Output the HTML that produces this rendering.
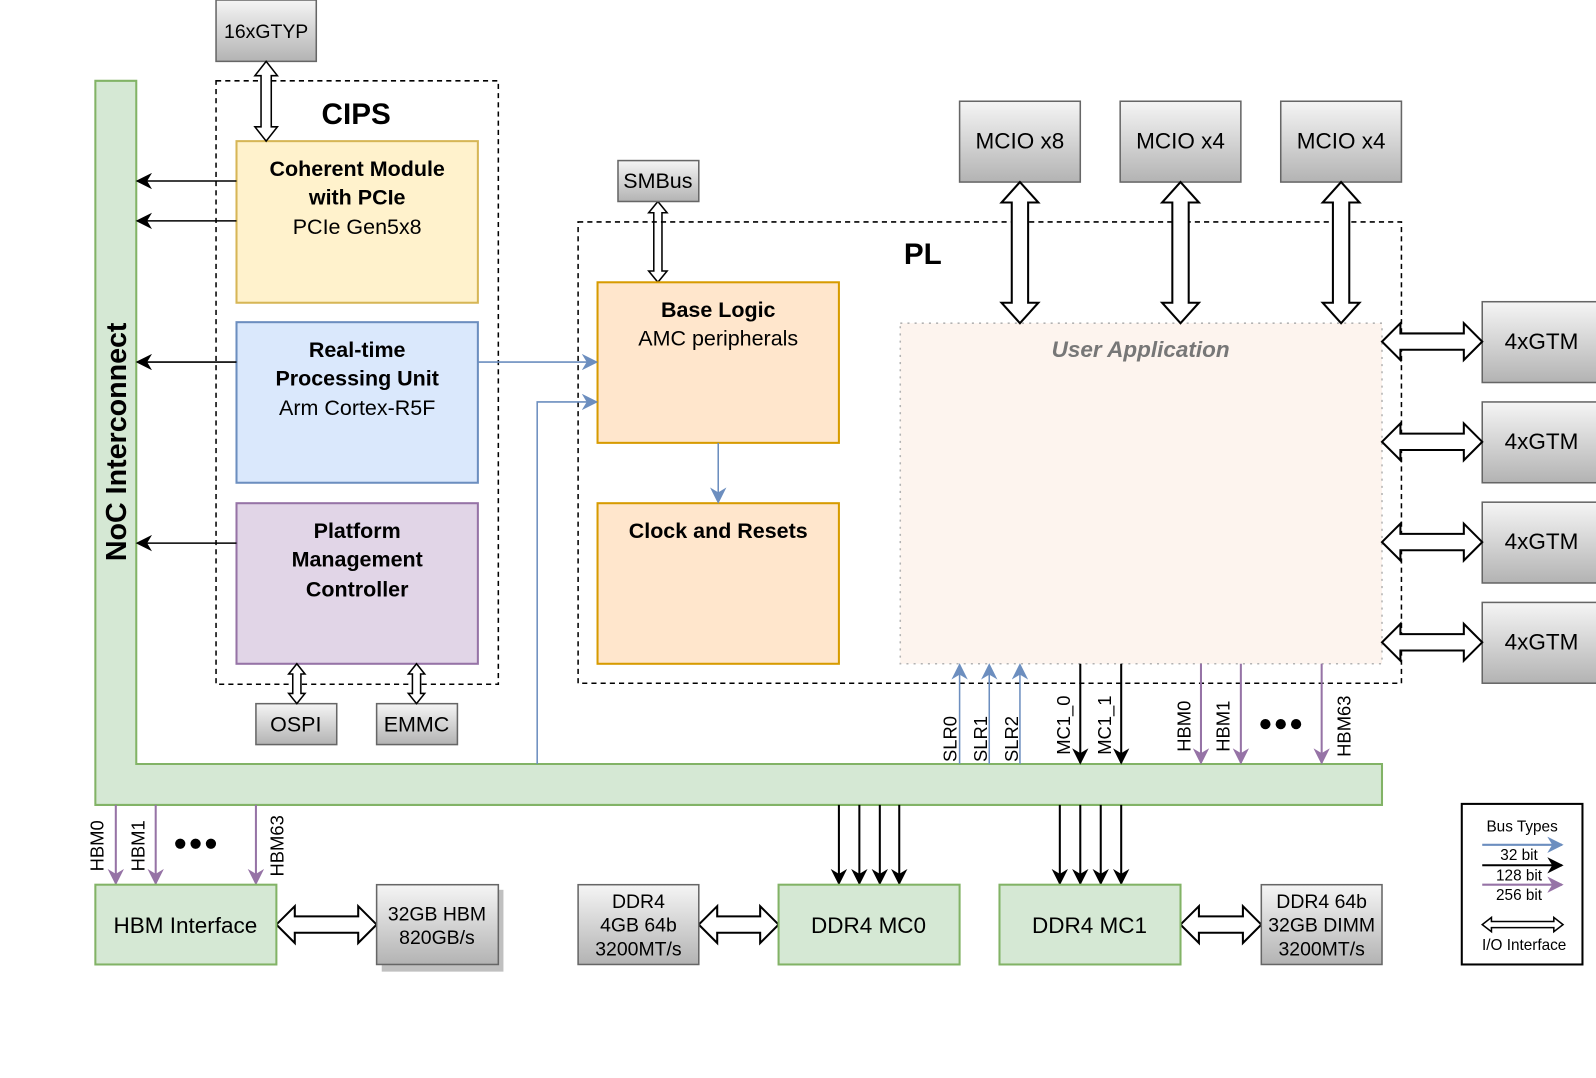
<!DOCTYPE html>
<html><head><meta charset="utf-8"><style>
html,body{margin:0;padding:0;background:#fff;}
svg{display:block;font-family:"Liberation Sans",Arial,sans-serif;}
</style></head><body>
<svg width="1596" height="1078" viewBox="0 0 1560 1054" xmlns="http://www.w3.org/2000/svg">
<defs>
<linearGradient id="g" x1="0" y1="0" x2="0" y2="1"><stop offset="0" stop-color="#f5f5f5"/><stop offset="1" stop-color="#b3b3b3"/></linearGradient>
<marker id="abk" viewBox="0 0 10 10" refX="9" refY="5" markerWidth="16" markerHeight="16" orient="auto" markerUnits="userSpaceOnUse"><path d="M0,0L10,5L0,10L3,5z" fill="#000"/></marker>
<marker id="abl" viewBox="0 0 10 10" refX="9" refY="5" markerWidth="16" markerHeight="16" orient="auto" markerUnits="userSpaceOnUse"><path d="M0,0L10,5L0,10L3,5z" fill="#6c8ebf"/></marker>
<marker id="apu" viewBox="0 0 10 10" refX="9" refY="5" markerWidth="16" markerHeight="16" orient="auto" markerUnits="userSpaceOnUse"><path d="M0,0L10,5L0,10L3,5z" fill="#9673a6"/></marker>
</defs>

<path d="M93,79H133V747H1351V787H93Z" fill="#d5e8d4" stroke="#82b366" stroke-width="2"/>
<text transform="translate(123,432) rotate(-90)" text-anchor="middle" font-size="28" font-weight="bold">NoC Interconnect</text>

<rect x="211" y="79" width="276" height="590" fill="none" stroke="#000" stroke-width="1.5" stroke-dasharray="5,4"/>
<text x="348" y="121" text-anchor="middle" font-size="29" font-weight="bold">CIPS</text>
<rect x="211" y="0" width="98" height="60" fill="url(#g)" stroke="#666" stroke-width="1.5"/>
<text x="260" y="37" text-anchor="middle" font-size="19">16xGTYP</text>

<rect x="231" y="138" width="236" height="158" fill="#fff2cc" stroke="#d6b656" stroke-width="2"/>
<text x="349" y="172" text-anchor="middle" font-size="21" font-weight="bold">Coherent Module</text>
<text x="349" y="200" text-anchor="middle" font-size="21" font-weight="bold">with PCIe</text>
<text x="349" y="229" text-anchor="middle" font-size="21">PCIe Gen5x8</text>

<rect x="231" y="315" width="236" height="157" fill="#dae8fc" stroke="#6c8ebf" stroke-width="2"/>
<text x="349" y="349" text-anchor="middle" font-size="21" font-weight="bold">Real-time</text>
<text x="349" y="377" text-anchor="middle" font-size="21" font-weight="bold">Processing Unit</text>
<text x="349" y="406" text-anchor="middle" font-size="21">Arm Cortex-R5F</text>

<rect x="231" y="492" width="236" height="157" fill="#e1d5e7" stroke="#9673a6" stroke-width="2"/>
<text x="349" y="526" text-anchor="middle" font-size="21" font-weight="bold">Platform</text>
<text x="349" y="554" text-anchor="middle" font-size="21" font-weight="bold">Management</text>
<text x="349" y="583" text-anchor="middle" font-size="21" font-weight="bold">Controller</text>

<rect x="250" y="688" width="79" height="40" fill="url(#g)" stroke="#666" stroke-width="1.5"/>
<text x="289" y="715" text-anchor="middle" font-size="21">OSPI</text>
<rect x="368" y="688" width="79" height="40" fill="url(#g)" stroke="#666" stroke-width="1.5"/>
<text x="407" y="715" text-anchor="middle" font-size="21">EMMC</text>

<g fill="#fff" stroke="#000" stroke-width="1.5">
<polygon points="260,60 271,74 265,74 265,124 271,124 260,138 249,124 255,124 255,74 249,74"/>
<polygon points="643,197 652,208 647,208 647,265 652,265 643,276 634,265 639,265 639,208 634,208"/>
<polygon points="290,649 298,659 294,659 294,678 298,678 290,688 282,678 286,678 286,659 282,659"/>
<polygon points="407,649 415,659 411,659 411,678 415,678 407,688 399,678 403,678 403,659 399,659"/>
</g>

<g stroke="#000" stroke-width="1.5" marker-end="url(#abk)">
<line x1="231" y1="177" x2="134" y2="177"/>
<line x1="231" y1="216" x2="134" y2="216"/>
<line x1="231" y1="354" x2="134" y2="354"/>
<line x1="231" y1="531" x2="134" y2="531"/>
</g>

<rect x="604" y="157" width="79" height="40" fill="url(#g)" stroke="#666" stroke-width="1.5"/>
<text x="643" y="184" text-anchor="middle" font-size="21">SMBus</text>

<rect x="565" y="217" width="805" height="451" fill="none" stroke="#000" stroke-width="1.5" stroke-dasharray="5,4"/>
<text x="902" y="258" text-anchor="middle" font-size="29" font-weight="bold">PL</text>

<rect x="584" y="276" width="236" height="157" fill="#ffe6cc" stroke="#d79b00" stroke-width="2"/>
<text x="702" y="310" text-anchor="middle" font-size="21" font-weight="bold">Base Logic</text>
<text x="702" y="338" text-anchor="middle" font-size="21">AMC peripherals</text>
<rect x="584" y="492" width="236" height="157" fill="#ffe6cc" stroke="#d79b00" stroke-width="2"/>
<text x="702" y="526" text-anchor="middle" font-size="21" font-weight="bold">Clock and Resets</text>

<rect x="880" y="316" width="471" height="333" fill="#fdf4ee" stroke="#b3b3b3" stroke-width="1.5" stroke-dasharray="2,5"/>
<text x="1115" y="349" text-anchor="middle" font-size="22" font-weight="bold" font-style="italic" fill="#777">User Application</text>

<g stroke="#6c8ebf" stroke-width="1.5" fill="none" marker-end="url(#abl)">
<line x1="467" y1="354" x2="583" y2="354"/>
<polyline points="525,747 525,393 583,393"/>
<line x1="702" y1="433" x2="702" y2="491"/>
<line x1="938" y1="747" x2="938" y2="650"/>
<line x1="967" y1="747" x2="967" y2="650"/>
<line x1="997" y1="747" x2="997" y2="650"/>
</g>
<g stroke="#000" stroke-width="2" marker-end="url(#abk)">
<line x1="1056" y1="649" x2="1056" y2="746"/>
<line x1="1096" y1="649" x2="1096" y2="746"/>
<line x1="820" y1="787" x2="820" y2="864"/>
<line x1="840" y1="787" x2="840" y2="864"/>
<line x1="860" y1="787" x2="860" y2="864"/>
<line x1="879" y1="787" x2="879" y2="864"/>
<line x1="1036" y1="787" x2="1036" y2="864"/>
<line x1="1056" y1="787" x2="1056" y2="864"/>
<line x1="1076" y1="787" x2="1076" y2="864"/>
<line x1="1096" y1="787" x2="1096" y2="864"/>
</g>
<g stroke="#9673a6" stroke-width="2" marker-end="url(#apu)">
<line x1="1174" y1="649" x2="1174" y2="746"/>
<line x1="1213" y1="649" x2="1213" y2="746"/>
<line x1="1292" y1="649" x2="1292" y2="746"/>
<line x1="113" y1="787" x2="113" y2="864"/>
<line x1="152" y1="787" x2="152" y2="864"/>
<line x1="250" y1="787" x2="250" y2="864"/>
</g>
<g font-size="18">
<text transform="translate(935,745) rotate(-90)">SLR0</text>
<text transform="translate(965,745) rotate(-90)">SLR1</text>
<text transform="translate(995,745) rotate(-90)">SLR2</text>
<text transform="translate(1046,738) rotate(-90)">MC1_0</text>
<text transform="translate(1086,738) rotate(-90)">MC1_1</text>
<text transform="translate(1164,735) rotate(-90)">HBM0</text>
<text transform="translate(1202,735) rotate(-90)">HBM1</text>
<text transform="translate(1320,740) rotate(-90)">HBM63</text>
<text transform="translate(101,852) rotate(-90)">HBM0</text>
<text transform="translate(141,852) rotate(-90)">HBM1</text>
<text transform="translate(277,857) rotate(-90)">HBM63</text>
</g>
<g fill="#000">
<circle cx="1237" cy="708" r="5"/><circle cx="1252" cy="708" r="5"/><circle cx="1267" cy="708" r="5"/>
<circle cx="176" cy="825" r="5"/><circle cx="191" cy="825" r="5"/><circle cx="206" cy="825" r="5"/>
</g>

<g font-size="22" text-anchor="middle">
<rect x="938" y="99" width="118" height="79" fill="url(#g)" stroke="#666" stroke-width="1.5"/>
<text x="997" y="145">MCIO x8</text>
<rect x="1095" y="99" width="118" height="79" fill="url(#g)" stroke="#666" stroke-width="1.5"/>
<text x="1154" y="145">MCIO x4</text>
<rect x="1252" y="99" width="118" height="79" fill="url(#g)" stroke="#666" stroke-width="1.5"/>
<text x="1311" y="145">MCIO x4</text>
<rect x="1449" y="295" width="117" height="79" fill="url(#g)" stroke="#666" stroke-width="1.5"/>
<text x="1507" y="341">4xGTM</text>
<rect x="1449" y="393" width="117" height="79" fill="url(#g)" stroke="#666" stroke-width="1.5"/>
<text x="1507" y="439">4xGTM</text>
<rect x="1449" y="491" width="117" height="79" fill="url(#g)" stroke="#666" stroke-width="1.5"/>
<text x="1507" y="537">4xGTM</text>
<rect x="1449" y="589" width="117" height="79" fill="url(#g)" stroke="#666" stroke-width="1.5"/>
<text x="1507" y="635">4xGTM</text>
</g>
<g fill="#fff" stroke="#000" stroke-width="2">
<polygon points="997,178 1015,198 1005,198 1005,296 1015,296 997,316 979,296 989,296 989,198 979,198"/>
<polygon points="1154,178 1172,198 1162,198 1162,296 1172,296 1154,316 1136,296 1146,296 1146,198 1136,198"/>
<polygon points="1311,178 1329,198 1319,198 1319,296 1329,296 1311,316 1293,296 1303,296 1303,198 1293,198"/>
<polygon points="1351,334 1369,316 1369,326 1431,326 1431,316 1449,334 1431,352 1431,342 1369,342 1369,352"/>
<polygon points="1351,432 1369,414 1369,424 1431,424 1431,414 1449,432 1431,450 1431,440 1369,440 1369,450"/>
<polygon points="1351,530 1369,512 1369,522 1431,522 1431,512 1449,530 1431,548 1431,538 1369,538 1369,548"/>
<polygon points="1351,628 1369,610 1369,620 1431,620 1431,610 1449,628 1431,646 1431,636 1369,636 1369,646"/>
<polygon points="270,904 288,886 288,896 350,896 350,886 368,904 350,922 350,912 288,912 288,922"/>
<polygon points="683,904 701,886 701,896 743,896 743,886 761,904 743,922 743,912 701,912 701,922"/>
<polygon points="1154,904 1172,886 1172,896 1215,896 1215,886 1233,904 1215,922 1215,912 1172,912 1172,922"/>
</g>

<rect x="93" y="865" width="177" height="78" fill="#d5e8d4" stroke="#82b366" stroke-width="2"/>
<text x="181" y="912" text-anchor="middle" font-size="22">HBM Interface</text>
<rect x="373" y="870" width="119" height="80" fill="#c0c0c0"/>
<rect x="368" y="865" width="119" height="78" fill="url(#g)" stroke="#666" stroke-width="1.5"/>
<text x="427" y="900" text-anchor="middle" font-size="19">32GB HBM</text>
<text x="427" y="923" text-anchor="middle" font-size="19">820GB/s</text>
<rect x="565" y="865" width="118" height="78" fill="url(#g)" stroke="#666" stroke-width="1.5"/>
<text x="624" y="888" text-anchor="middle" font-size="19">DDR4</text>
<text x="624" y="911" text-anchor="middle" font-size="19">4GB 64b</text>
<text x="624" y="934" text-anchor="middle" font-size="19">3200MT/s</text>
<rect x="761" y="865" width="177" height="78" fill="#d5e8d4" stroke="#82b366" stroke-width="2"/>
<text x="849" y="912" text-anchor="middle" font-size="22">DDR4 MC0</text>
<rect x="977" y="865" width="177" height="78" fill="#d5e8d4" stroke="#82b366" stroke-width="2"/>
<text x="1065" y="912" text-anchor="middle" font-size="22">DDR4 MC1</text>
<rect x="1233" y="865" width="118" height="78" fill="url(#g)" stroke="#666" stroke-width="1.5"/>
<text x="1292" y="888" text-anchor="middle" font-size="19">DDR4 64b</text>
<text x="1292" y="911" text-anchor="middle" font-size="19">32GB DIMM</text>
<text x="1292" y="934" text-anchor="middle" font-size="19">3200MT/s</text>

<rect x="1429" y="786" width="118" height="157" fill="#fff" stroke="#000" stroke-width="2"/>
<g font-size="15" text-anchor="middle">
<text x="1488" y="813">Bus Types</text>
<text x="1485" y="841">32 bit</text>
<text x="1485" y="861">128 bit</text>
<text x="1485" y="880">256 bit</text>
<text x="1490" y="929">I/O Interface</text>
</g>
<line x1="1449" y1="826" x2="1527" y2="826" stroke="#6c8ebf" stroke-width="2" marker-end="url(#abl)"/>
<line x1="1449" y1="846" x2="1527" y2="846" stroke="#000" stroke-width="2" marker-end="url(#abk)"/>
<line x1="1449" y1="865" x2="1527" y2="865" stroke="#9673a6" stroke-width="2" marker-end="url(#apu)"/>
<polygon points="1449,904 1458,897 1458,901 1519,901 1519,897 1528,904 1519,911 1519,907 1458,907 1458,911" fill="#fff" stroke="#000" stroke-width="1.5"/>
</svg>
</body></html>
